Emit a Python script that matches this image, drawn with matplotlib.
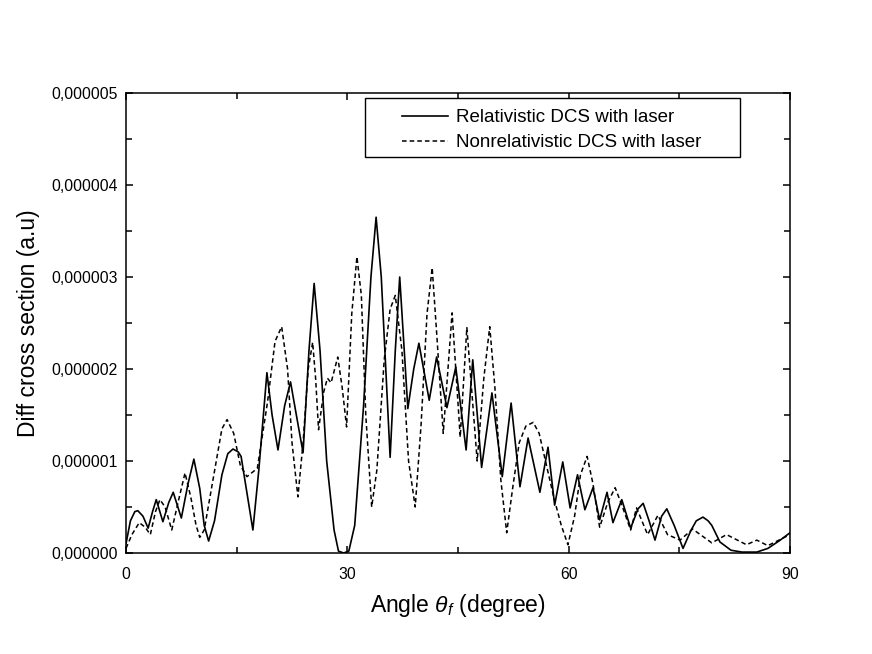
import matplotlib
matplotlib.use('Agg')
import numpy as np
import matplotlib.pyplot as plt
from matplotlib.patches import Rectangle
from matplotlib.ticker import FuncFormatter, MultipleLocator

# values, y in units of 1e-6 a.u.
rel_angle = [0.0, 0.6, 1.2, 1.6, 2.3, 3.0, 3.6, 4.1, 5.0, 5.8, 6.4, 7.5, 8.4, 9.2, 10.0,
             10.6, 11.2, 12.0, 13.0, 13.8, 14.5, 15.2, 15.6, 16.3, 17.2, 18.0, 19.1,
             19.8, 20.6, 21.5, 22.3, 23.2, 24.0, 24.8, 25.5, 26.3, 27.2, 28.2, 28.8,
             29.5, 30.2, 31.0, 32.2, 33.2, 33.9, 34.6, 35.8, 36.5, 37.1, 38.2, 39.0,
             39.7, 41.1, 42.1, 43.5, 44.7, 46.1, 47.0, 48.2, 49.6, 51.0, 52.2, 53.4,
             54.5, 56.1, 57.2, 58.1, 59.2, 60.2, 61.2, 62.2, 63.3, 64.2, 65.2, 66.0,
             67.2, 68.4, 69.4, 70.1, 70.9, 71.7, 72.6, 73.3, 74.3, 75.5, 76.6, 77.3,
             78.2, 78.9, 79.4, 80.5, 82.0, 83.5, 85.5, 87.0, 88.5, 90.0]
rel_dcs = [0.10, 0.35, 0.45, 0.46, 0.40, 0.27, 0.45, 0.58, 0.34, 0.55, 0.66, 0.38, 0.75, 1.02,
           0.70, 0.30, 0.13, 0.35, 0.85, 1.08, 1.13, 1.10, 1.05, 0.70, 0.25, 0.90, 1.96,
           1.50, 1.12, 1.60, 1.86, 1.45, 1.09, 2.20, 2.93, 2.20, 1.00, 0.25, 0.02,
           0.00, 0.02, 0.30, 1.60, 3.00, 3.65, 3.00, 1.04, 2.20, 3.00, 1.57, 2.00,
           2.28, 1.66, 2.13, 1.58, 2.02, 1.12, 2.10, 0.93, 1.74, 0.83, 1.63, 0.72,
           1.25, 0.66, 1.15, 0.52, 0.99, 0.49, 0.85, 0.47, 0.71, 0.36, 0.66, 0.33,
           0.58, 0.27, 0.48, 0.54, 0.35, 0.14, 0.40, 0.48, 0.30, 0.05, 0.25, 0.35,
           0.39, 0.35, 0.30, 0.12, 0.03, 0.01, 0.01, 0.05, 0.13, 0.22]

nonrel_angle = [0.0, 0.8, 1.8, 2.6, 3.3, 4.0, 4.6, 5.3, 6.2, 7.2, 8.0, 8.8, 9.5, 10.0,
                10.6, 11.8, 13.0, 13.7, 14.6, 15.5, 16.4, 17.8, 19.2, 20.2, 21.1, 21.9,
                22.5, 23.3, 24.0, 24.7, 25.3, 25.7, 26.1, 26.8, 27.3, 27.8, 28.7, 29.3,
                29.9, 30.6, 31.3, 31.9, 32.5, 33.3, 34.0, 35.0, 35.8, 36.5, 37.4, 38.3,
                39.2, 40.0, 40.8, 41.5, 42.1, 43.0, 44.2, 45.3, 46.2, 47.6, 48.5, 49.3,
                50.0, 50.8, 51.6, 52.4, 53.3, 54.2, 55.2, 56.0, 57.0, 58.0, 59.0, 59.9,
                60.8, 61.6, 62.5, 63.3, 64.2, 65.3, 66.3, 67.3, 68.4, 69.2, 70.7, 72.1,
                73.4, 75.1, 76.8, 79.4, 81.4, 84.1, 85.5, 87.0, 88.5, 90.0]
nonrel_dcs = [0.05, 0.20, 0.33, 0.28, 0.20, 0.45, 0.58, 0.50, 0.25, 0.60, 0.87, 0.60, 0.30,
              0.17, 0.25, 0.80, 1.35, 1.45, 1.30, 0.95, 0.83, 0.92, 1.65, 2.30, 2.46,
              2.00, 1.20, 0.61, 1.20, 2.00, 2.29, 1.90, 1.34, 1.75, 1.90, 1.85, 2.13,
              1.80, 1.37, 2.60, 3.22, 2.80, 1.50, 0.50, 0.90, 2.10, 2.65, 2.80, 2.20,
              1.00, 0.50, 1.40, 2.60, 3.10, 2.40, 1.30, 2.61, 1.26, 2.45, 1.00, 1.90,
              2.46, 1.80, 0.80, 0.22, 0.70, 1.20, 1.38, 1.42, 1.30, 0.95, 0.60, 0.30,
              0.09, 0.40, 0.85, 1.05, 0.75, 0.28, 0.55, 0.71, 0.50, 0.25, 0.49, 0.20,
              0.41, 0.20, 0.14, 0.26, 0.11, 0.20, 0.09, 0.14, 0.08, 0.14, 0.20]

scale = 1e-6

plt.rcParams['font.family'] = ['Liberation Sans', 'DejaVu Sans']
plt.rcParams['mathtext.fontset'] = 'custom'
plt.rcParams['mathtext.it'] = 'Liberation Sans:italic'
plt.rcParams['mathtext.rm'] = 'Liberation Sans'

fig = plt.figure(figsize=(8.72, 6.54), dpi=100)
ax = fig.add_axes([126 / 872, 101 / 654, 664 / 872, 460 / 654])

ax.plot(rel_angle, np.array(rel_dcs) * scale, color='black', lw=1.2,
        label='Relativistic DCS with laser')
ax.plot(nonrel_angle, np.array(nonrel_dcs) * scale, color='black', lw=1.1,
        linestyle=(0, (3, 2)), label='Nonrelativistic DCS with laser')

ax.set_xlim(0, 90)
ax.set_ylim(0, 5e-6)
ax.xaxis.set_major_locator(MultipleLocator(30))
ax.xaxis.set_minor_locator(MultipleLocator(15))
ax.yaxis.set_major_locator(MultipleLocator(1e-6))
ax.yaxis.set_minor_locator(MultipleLocator(0.5e-6))
ax.yaxis.set_major_formatter(FuncFormatter(lambda v, p: f'{v:.6f}'.replace('.', ',')))
ax.tick_params(which='both', direction='in', top=True, right=True, width=1.1,
               labelsize=11.3, colors='black')
ax.tick_params(axis='x', which='major', length=5, pad=10)
ax.tick_params(axis='y', which='major', length=5, pad=6)
ax.tick_params(which='minor', length=4)
for s in ax.spines.values():
    s.set_linewidth(1.1)

ax.set_xlabel(r'Angle $\theta_f$ (degree)', fontsize=16.5, labelpad=7)
ax.set_ylabel('Diff cross section (a.u)', fontsize=16.5, labelpad=8)

# legend box drawn separately, it has wide side margins in the original
box = Rectangle((239 / 664, 396 / 460), 375 / 664, 59 / 460, transform=ax.transAxes,
                facecolor='white', edgecolor='black', lw=1.0, zorder=5)
ax.add_patch(box)
leg = ax.legend(loc='upper left', bbox_to_anchor=(276 / 664, 444 / 460),
                borderaxespad=0, borderpad=0, frameon=False, fontsize=13.5,
                handlelength=2.45, handletextpad=0.43, labelspacing=0.42)
leg.set_zorder(6)

fig.savefig('out.png', dpi=100)
